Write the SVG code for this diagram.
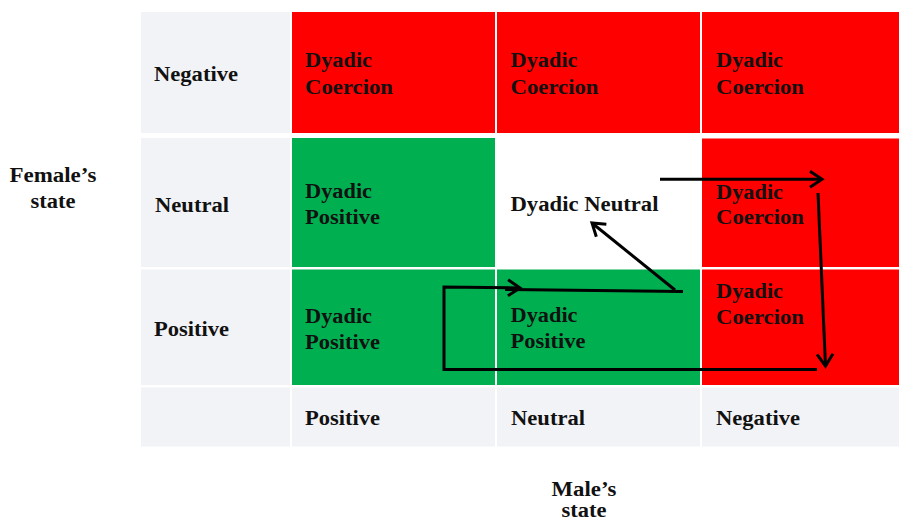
<svg xmlns="http://www.w3.org/2000/svg" width="899" height="523" viewBox="0 0 899 523">
<style>
.t{font-family:"Liberation Serif","Times New Roman",serif;font-weight:bold;font-size:20px;fill:#111}
.c{text-anchor:middle}
.gray{fill:#f2f3f7}
.red{fill:#ff0000}
.green{fill:#00b050}
.white{fill:#ffffff}
.conn{fill:none;stroke:#000;stroke-width:3}
</style>
<defs>
<marker id="ah" viewBox="-16 -10 19 20" refX="0" refY="0" markerWidth="19" markerHeight="20" markerUnits="userSpaceOnUse" orient="auto">
<path d="M-12,-8 L0,0 L-12,8" fill="none" stroke="#000" stroke-width="3"/>
</marker>
</defs>
<rect width="899" height="523" fill="#ffffff"/>

<g id="axis-female"><text class="t c" x="53" y="182" textLength="87" lengthAdjust="spacingAndGlyphs">Female’s</text><text class="t c" x="53" y="208" textLength="45" lengthAdjust="spacingAndGlyphs">state</text></g>
<g id="axis-male"><text class="t c" x="584" y="496" textLength="65" lengthAdjust="spacingAndGlyphs">Male’s</text><text class="t c" x="584" y="517" font-size="19" textLength="45" lengthAdjust="spacingAndGlyphs">state</text></g>

<g id="row-negative">
<rect class="gray" x="141" y="12" width="149" height="121"/>
<text class="t" x="154" y="81" textLength="84" lengthAdjust="spacingAndGlyphs">Negative</text>
</g>
<g id="r1c1"><rect class="red" x="292" y="12" width="203" height="121"/>
<text class="t" x="305" y="67" textLength="67" lengthAdjust="spacingAndGlyphs">Dyadic</text><text class="t" x="305" y="93.5" textLength="88" lengthAdjust="spacingAndGlyphs">Coercion</text></g>
<g id="r1c2"><rect class="red" x="497" y="12" width="203" height="121"/>
<text class="t" x="510.5" y="67" textLength="67" lengthAdjust="spacingAndGlyphs">Dyadic</text><text class="t" x="510.5" y="93.5" textLength="88" lengthAdjust="spacingAndGlyphs">Coercion</text></g>
<g id="r1c3"><rect class="red" x="702" y="12" width="197" height="121"/>
<text class="t" x="716" y="67" textLength="67" lengthAdjust="spacingAndGlyphs">Dyadic</text><text class="t" x="716" y="93.5" textLength="88" lengthAdjust="spacingAndGlyphs">Coercion</text></g>

<g id="row-neutral">
<rect class="gray" x="141" y="138" width="149" height="129"/>
<text class="t" x="155" y="212" textLength="74" lengthAdjust="spacingAndGlyphs">Neutral</text>
</g>
<g id="r2c1"><rect class="green" x="292" y="138" width="203" height="129"/>
<text class="t" x="305" y="198" textLength="67" lengthAdjust="spacingAndGlyphs">Dyadic</text><text class="t" x="305" y="224" textLength="75" lengthAdjust="spacingAndGlyphs">Positive</text></g>
<g id="r2c2"><rect class="white" x="497" y="138" width="203" height="129"/>
<text class="t" x="510.5" y="211" textLength="148" lengthAdjust="spacingAndGlyphs">Dyadic Neutral</text></g>
<g id="r2c3"><rect class="red" x="702" y="138.5" width="197" height="128.5"/>
<text class="t" x="716" y="198.5" textLength="67" lengthAdjust="spacingAndGlyphs">Dyadic</text><text class="t" x="716" y="224" textLength="88" lengthAdjust="spacingAndGlyphs">Coercion</text></g>

<g id="row-positive">
<rect class="gray" x="141" y="269.5" width="149" height="115.5"/>
<text class="t" x="154" y="336" textLength="75" lengthAdjust="spacingAndGlyphs">Positive</text>
</g>
<g id="r3c1"><rect class="green" x="292" y="269.5" width="203" height="115.5"/>
<text class="t" x="305" y="323" textLength="67" lengthAdjust="spacingAndGlyphs">Dyadic</text><text class="t" x="305" y="348.5" textLength="75" lengthAdjust="spacingAndGlyphs">Positive</text></g>
<g id="r3c2"><rect class="green" x="497" y="269.5" width="203" height="115.5"/>
<text class="t" x="510.5" y="322" textLength="67" lengthAdjust="spacingAndGlyphs">Dyadic</text><text class="t" x="510.5" y="348.3" textLength="75" lengthAdjust="spacingAndGlyphs">Positive</text></g>
<g id="r3c3"><rect class="red" x="702" y="269.5" width="197" height="115.5"/>
<text class="t" x="716" y="298.3" textLength="67" lengthAdjust="spacingAndGlyphs">Dyadic</text><text class="t" x="716" y="324" textLength="88" lengthAdjust="spacingAndGlyphs">Coercion</text></g>

<g id="col-labels">
<rect class="gray" x="141" y="387.5" width="149" height="59"/>
<rect class="gray" x="292" y="387.5" width="203" height="59"/>
<rect class="gray" x="497" y="387.5" width="203" height="59"/>
<rect class="gray" x="702" y="387.5" width="197" height="59"/>
<text class="t" x="305" y="425" textLength="75" lengthAdjust="spacingAndGlyphs">Positive</text>
<text class="t" x="511" y="425" textLength="74" lengthAdjust="spacingAndGlyphs">Neutral</text>
<text class="t" x="716" y="425" textLength="84" lengthAdjust="spacingAndGlyphs">Negative</text>
</g>

<g id="connectors">
<path class="conn" d="M660,179.3 L822,179.3" marker-end="url(#ah)"/>
<path class="conn" d="M818,193 L825.5,366" marker-end="url(#ah)"/>
<path class="conn" d="M817,369.5 L444,369.5 L444,287 L520,288" marker-end="url(#ah)"/>
<path class="conn" d="M505,289.5 L683,291.5"/>
<path class="conn" d="M675,290 L592,223" marker-end="url(#ah)"/>
</g>
</svg>
